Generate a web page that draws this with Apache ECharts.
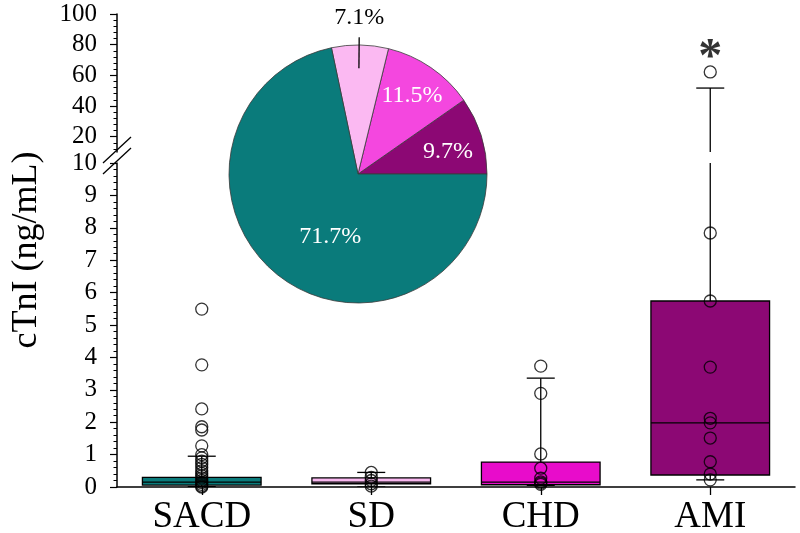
<!DOCTYPE html>
<html>
<head>
<meta charset="utf-8">
<script src="https://cdn.jsdelivr.net/npm/echarts@6/dist/echarts.min.js"></script>
<style>html,body{margin:0;padding:0;background:#fff;}#c{width:800px;height:533px;}</style>
</head>
<body>
<div id="c"></div>
<script>
// ---------------- data ----------------
const categories = ['SACD', 'SD', 'CHD', 'AMI'];
const whiskerLow  = [0.01, 0.00, 0.05, 0.22];
const q1          = [0.06, 0.10, 0.07, 0.37];
const median      = [0.15, 0.15, 0.15, 1.98];
const q3          = [0.30, 0.28, 0.77, 5.74];
const whiskerHigh = [0.95, 0.45, 3.36, 51.7];

const sacdPoints = [5.49, 3.77, 2.41, 1.86, 1.76, 1.27, 1.00, 0.90, 0.80, 0.70, 0.60, 0.50, 0.42, 0.35, 0.28, 0.20, 0.14, 0.08, 0.03, 0.00];
const sdPoints   = [0.45, 0.30, 0.20, 0.10, 0.03];
const chdPoints  = [3.73, 2.89, 1.02, 0.58, 0.27, 0.16, 0.12, 0.08];
const amiPoints  = [62.2, 7.84, 5.74, 3.70, 2.12, 1.98, 1.51, 0.78, 0.40, 0.22];

const pieNames   = ['AMI', 'CHD', 'SD', 'SACD'];
const piePercent = [9.7, 11.5, 7.1, 71.7];

const lowerTicks = [0, 1, 2, 3, 4, 5, 6, 7, 8, 9, 10];
const upperTicks = [20, 40, 60, 80, 100];
const upperMinorTicks = [12, 16, 24, 28, 32, 36, 44, 48, 52, 56, 64, 68, 72, 76, 84, 88, 92, 96];
const breakValue = 10;

// ---------------- style ----------------
const boxColors = ['#0A7B7B', '#F9B8F0', '#E80CCB', '#8C0874'];
const pieColors = ['#8C0874', '#F447DF', '#FBB9F2', '#0A7B7B'];
const FONT = '"Liberation Serif", "Times New Roman", serif';
const pieCenter = [358, 174], pieR = 129;
// label placement per slice: [radius factor, angle deg ccw from +x]
const labelPolar = [[0.72, 14], [0.74, 55.6], [1.21, 89.5], [0.53, 246]];
const leader = [0.82, 1.06]; // leader line radius factors for the outside label

const allPoints = [sacdPoints, sdPoints, chdPoints, amiPoints];
const lowerScatter = [], upperScatter = [];
allPoints.forEach((arr, i) => arr.forEach(v => {
  if (v <= breakValue) lowerScatter.push([i, v]); else upperScatter.push([i, v]);
}));
const boxData = categories.map((c, i) => [i, whiskerLow[i], q1[i], median[i], q3[i], whiskerHigh[i]]);
const upperWhiskers = boxData.filter(d => d[5] > breakValue);

const lineStyle = { stroke: '#000', lineWidth: 1.3 };

function renderLower(params, api) {
  const i = api.value(0);
  const lo = api.value(1), a = api.value(2), m = api.value(3), b = api.value(4), hi = api.value(5);
  const bw = api.size([1, 0])[0] * 0.70;
  const capW = 28;
  const x = api.coord([i, 0])[0];
  const yLo = api.coord([i, lo])[1], yA = api.coord([i, a])[1], yM = api.coord([i, m])[1];
  const yB = api.coord([i, b])[1], yHi = api.coord([i, Math.min(hi, breakValue)])[1];
  const children = [
    { type: 'line', shape: { x1: x, y1: yB, x2: x, y2: yHi - (hi > breakValue ? 2 : 0) }, style: lineStyle },
    { type: 'line', shape: { x1: x, y1: yA, x2: x, y2: yLo }, style: lineStyle },
    { type: 'rect', shape: { x: x - bw / 2, y: yB, width: bw, height: yA - yB },
      style: { fill: boxColors[i], stroke: '#000', lineWidth: 1.3 } },
    { type: 'line', shape: { x1: x - bw / 2, y1: yM, x2: x + bw / 2, y2: yM }, style: lineStyle },
    { type: 'line', shape: { x1: x - capW / 2, y1: yLo, x2: x + capW / 2, y2: yLo }, style: lineStyle }
  ];
  if (hi <= breakValue) {
    children.push({ type: 'line', shape: { x1: x - capW / 2, y1: yHi, x2: x + capW / 2, y2: yHi }, style: lineStyle });
  }
  return { type: 'group', children };
}

function renderUpper(params, api) {
  const i = api.value(0);
  const hi = api.value(5);
  const capW = 28;
  const p0 = api.coord([i, breakValue]);
  const p1 = api.coord([i, hi]);
  return { type: 'group', children: [
    { type: 'line', shape: { x1: p0[0], y1: p0[1], x2: p1[0], y2: p1[1] }, style: lineStyle },
    { type: 'line', shape: { x1: p1[0] - capW / 2, y1: p1[1], x2: p1[0] + capW / 2, y2: p1[1] }, style: lineStyle }
  ]};
}

function polarPt(f, deg) {
  const a = deg * Math.PI / 180;
  return [pieCenter[0] + f * pieR * Math.cos(a), pieCenter[1] - f * pieR * Math.sin(a)];
}

const chart = echarts.init(document.getElementById('c'), null, { renderer: 'canvas' });

const axisLabelStyle = { color: '#000', fontFamily: FONT, fontSize: 25 };
const l0 = polarPt(leader[0], labelPolar[2][1]), l1 = polarPt(leader[1], labelPolar[2][1]);

const option = {
  animation: false,
  backgroundColor: '#fff',
  grid: [
    { left: 117, right: 5, top: 14, height: 138, outerBoundsMode: 'none', containLabel: false },
    { left: 117, right: 5, top: 163, height: 324, outerBoundsMode: 'none', containLabel: false }
  ],
  xAxis: [
    { type: 'category', gridIndex: 0, data: categories, show: false },
    { type: 'category', gridIndex: 1, data: categories,
      axisLine: { lineStyle: { color: '#000', width: 1.5 } },
      axisTick: { show: true, alignWithLabel: true, length: 8, lineStyle: { color: '#000', width: 1.3 } },
      axisLabel: { color: '#000', fontFamily: FONT, fontSize: 37, margin: 12 },
      splitLine: { show: false } }
  ],
  yAxis: [
    { type: 'value', gridIndex: 0, min: 10, max: 100,
      axisLine: { show: true, lineStyle: { color: '#000', width: 1.5 } },
      axisTick: { show: true, length: 7, customValues: upperTicks, lineStyle: { color: '#000', width: 1.2 } },
      axisLabel: Object.assign({ customValues: upperTicks, margin: 20 }, axisLabelStyle),
      splitLine: { show: false } },
    { type: 'value', gridIndex: 0, min: 10, max: 100, position: 'left',
      axisLine: { show: false },
      axisTick: { show: true, length: 3.5, customValues: upperMinorTicks, lineStyle: { color: '#000', width: 1 } },
      axisLabel: { show: false },
      splitLine: { show: false } },
    { type: 'value', gridIndex: 1, min: 0, max: 10, interval: 1,
      axisLine: { show: true, lineStyle: { color: '#000', width: 1.5 } },
      axisTick: { show: true, length: 7, lineStyle: { color: '#000', width: 1.2 } },
      minorTick: { show: true, splitNumber: 5, length: 3.5, lineStyle: { color: '#000', width: 1 } },
      axisLabel: Object.assign({ margin: 20, customValues: lowerTicks }, axisLabelStyle),
      splitLine: { show: false } }
  ],
  series: [
    { type: 'custom', xAxisIndex: 1, yAxisIndex: 2, renderItem: renderLower, data: boxData,
      encode: { x: 0, y: [1, 2, 3, 4, 5] }, clip: true, z: 2 },
    { type: 'custom', xAxisIndex: 0, yAxisIndex: 0, renderItem: renderUpper, data: upperWhiskers,
      encode: { x: 0, y: [5] }, clip: true, z: 2 },
    { type: 'scatter', xAxisIndex: 1, yAxisIndex: 2, data: lowerScatter, symbol: 'circle', symbolSize: 12,
      itemStyle: { color: 'rgba(0,0,0,0)', borderColor: '#000', borderWidth: 1.3 }, z: 3, clip: false },
    { type: 'scatter', xAxisIndex: 0, yAxisIndex: 0, data: upperScatter, symbol: 'circle', symbolSize: 12,
      itemStyle: { color: 'rgba(0,0,0,0)', borderColor: '#000', borderWidth: 1.3 }, z: 3,
      label: { show: true, position: 'top', distance: -17, formatter: '*', color: '#000',
        fontFamily: FONT, fontSize: 48, fontWeight: 'bold' } },
    { type: 'pie', center: pieCenter, radius: pieR, startAngle: 0, clockwise: false,
      avoidLabelOverlap: false, z: 5,
      itemStyle: { borderColor: '#3a3a3a', borderWidth: 0.8 },
      data: pieNames.map((n, i) => ({
        name: n, value: piePercent[i],
        itemStyle: { color: pieColors[i] },
        label: { color: i === 2 ? '#000' : '#fff' }
      })),
      label: { show: true, position: 'inside', formatter: p => piePercent[p.dataIndex].toFixed(1) + '%',
        fontFamily: FONT, fontSize: 24 },
      labelLine: { show: false },
      labelLayout: function (p) {
        const lp = labelPolar[p.dataIndex];
        const pt = polarPt(lp[0], lp[1]);
        return { x: pt[0], y: pt[1], align: 'center', verticalAlign: 'middle' };
      },
      emphasis: { disabled: true }
    }
  ],
  graphic: [
    { type: 'text', x: 27, y: 250, rotation: Math.PI / 2,
      style: { text: 'cTnI (ng/mL)', font: '36px ' + FONT, fill: '#000', align: 'center', verticalAlign: 'middle' } },
    { type: 'line', shape: { x1: 103, y1: 163, x2: 131, y2: 137 }, style: { stroke: '#000', lineWidth: 1.3 } },
    { type: 'line', shape: { x1: 103, y1: 174, x2: 131, y2: 148 }, style: { stroke: '#000', lineWidth: 1.3 } },
    { type: 'line', z: 100, shape: { x1: l0[0], y1: l0[1], x2: l1[0], y2: l1[1] }, style: { stroke: '#000', lineWidth: 1.3 } }
  ]
};
chart.setOption(option);
</script>
</body>
</html>
